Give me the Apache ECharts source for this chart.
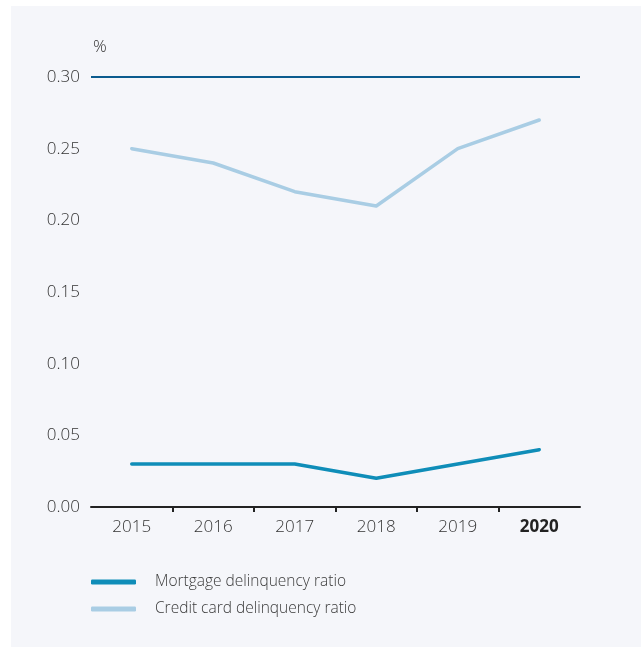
<!DOCTYPE html>
<html>
<head>
<meta charset="utf-8">
<script src="https://cdn.jsdelivr.net/npm/echarts@6/dist/echarts.min.js"></script>
<style>
  html, body { margin: 0; padding: 0; background: #ffffff; }
  #wrap { position: relative; width: 641px; height: 647px; }
  #panel { position: absolute; left: 11px; top: 6px; right: 0; bottom: 0; background: #f5f6fa; }
  #chart { position: absolute; left: 0; top: 0; width: 641px; height: 647px; }
</style>
</head>
<body>
<div id="wrap">
  <div id="panel"></div>
  <div id="chart"></div>
</div>
<script>
// Years on the category axis
const years = ['2015', '2016', '2017', '2018', '2019', '2020'];
// Delinquency ratios, in %
const mortgageRatio = [0.03, 0.03, 0.03, 0.02, 0.03, 0.04];
const creditCardRatio = [0.25, 0.24, 0.22, 0.21, 0.25, 0.27];
// Value axis range and reference line
const yMin = 0;
const yMax = 0.30;
const yStep = 0.05;
const topLine = 0.30;
// Boundaries between year bands, used for the small axis ticks
const bandBoundaries = [1, 2, 3, 4, 5];

const FONT = '"Open Sans", "Noto Sans", sans-serif';
const TEXT = '#333333';

const chart = echarts.init(document.getElementById('chart'), null, { renderer: 'canvas' });

chart.setOption({
  backgroundColor: 'transparent',
  animation: false,
  textStyle: { fontFamily: FONT },
  grid: { left: 91, right: 61, top: 77, bottom: 140, containLabel: false },
  legend: {
    orient: 'vertical',
    left: 86,
    top: 569,
    itemWidth: 45,
    itemHeight: 5,
    itemGap: 11,
    icon: 'roundRect',
    textStyle: { fontFamily: FONT, fontSize: 15.5, fontWeight: 300, color: '#3a3a3a', padding: [0, 0, 0, 14], lineHeight: 16 },
    data: ['Mortgage delinquency ratio', 'Credit card delinquency ratio']
  },
  xAxis: [
    {
      type: 'category',
      data: years,
      boundaryGap: true,
      axisLine: { show: true, lineStyle: { color: '#222', width: 2 } },
      axisTick: { show: false },
      axisLabel: {
        interval: 0,
        margin: 12,
        fontSize: 17,
        fontWeight: 300,
        color: TEXT,
        fontFamily: FONT,
        formatter: function (v) { return v === '2020' ? '{b|' + v + '}' : v; },
        rich: { b: { fontWeight: 'bold', fontSize: 17, color: '#222', fontFamily: FONT } }
      },
      splitLine: { show: false }
    },
    {
      type: 'value',
      position: 'bottom',
      min: 0,
      max: years.length,
      axisLine: { show: false },
      axisLabel: { show: false },
      splitLine: { show: false },
      axisTick: {
        show: true,
        customValues: bandBoundaries,
        length: 5,
        inside: false,
        lineStyle: { color: '#222', width: 2 }
      }
    }
  ],
  yAxis: {
    type: 'value',
    min: yMin,
    max: yMax,
    interval: yStep,
    name: '%',
    nameLocation: 'end',
    nameGap: 30,
    nameTextStyle: { align: 'left', verticalAlign: 'middle', fontSize: 17, fontWeight: 300, color: TEXT, fontFamily: FONT, padding: [0, 0, 0, 2] },
    axisLine: { show: false },
    axisTick: { show: false },
    splitLine: { show: false },
    axisLabel: {
      margin: 11,
      fontSize: 17,
      fontWeight: 300,
      color: TEXT,
      fontFamily: FONT,
      formatter: function (v) { return v.toFixed(2); }
    }
  },
  series: [
    {
      name: 'Mortgage delinquency ratio',
      type: 'line',
      data: mortgageRatio,
      symbol: 'none',
      color: '#0f8db8',
      lineStyle: { width: 3.5, color: '#0f8db8', cap: 'round', join: 'round' },
      z: 3,
      markLine: {
        silent: true,
        symbol: 'none',
        label: { show: false },
        lineStyle: { color: '#0b5b8e', width: 2, type: 'solid' },
        data: [{ yAxis: topLine }]
      }
    },
    {
      name: 'Credit card delinquency ratio',
      type: 'line',
      data: creditCardRatio,
      symbol: 'none',
      color: '#a9cde4',
      lineStyle: { width: 3.5, color: '#a9cde4', cap: 'round', join: 'round' },
      z: 2
    }
  ]
});
</script>
</body>
</html>
